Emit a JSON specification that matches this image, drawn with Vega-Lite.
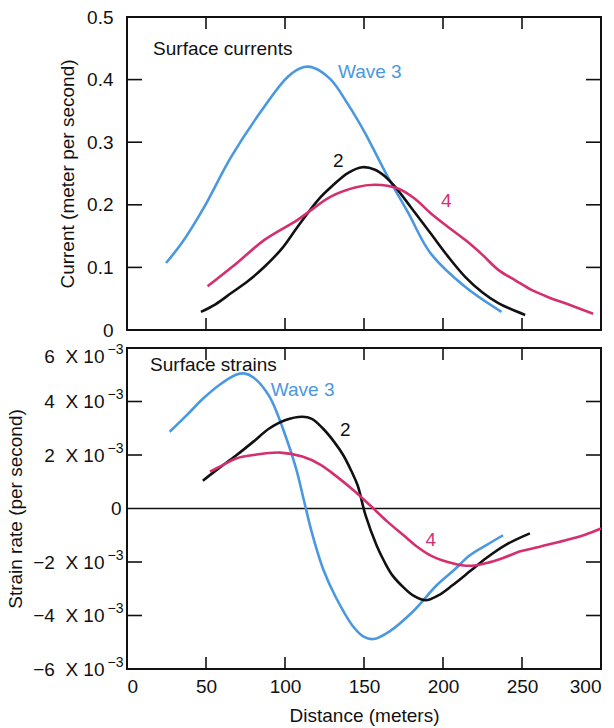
{
  "$schema": "https://vega.github.io/schema/vega-lite/v6.json",
  "padding": {"left": 5, "top": 7, "right": 0, "bottom": 0},
  "spacing": 18,
  "bounds": "flush",
  "config": {
    "font": "Liberation Sans",
    "view": {"stroke": "#111", "strokeWidth": 2},
    "rule": {"color": "#111", "strokeWidth": 1.6},
    "axis": {
      "domain": false,
      "grid": false,
      "ticks": false,
      "labelFont": "Liberation Sans",
      "labelFontSize": 19,
      "labelColor": "#111",
      "titleFont": "Liberation Sans",
      "titleFontSize": 19,
      "titleFontWeight": "normal",
      "titleColor": "#111"
    }
  },
  "datasets": {
    "currents": [
      {"wave": "Wave 3", "distance": 24.7, "value": 0.107},
      {"wave": "Wave 3", "distance": 35, "value": 0.14},
      {"wave": "Wave 3", "distance": 49, "value": 0.197},
      {"wave": "Wave 3", "distance": 66, "value": 0.277},
      {"wave": "Wave 3", "distance": 87, "value": 0.357},
      {"wave": "Wave 3", "distance": 102, "value": 0.405},
      {"wave": "Wave 3", "distance": 112, "value": 0.42},
      {"wave": "Wave 3", "distance": 118, "value": 0.419},
      {"wave": "Wave 3", "distance": 129, "value": 0.4},
      {"wave": "Wave 3", "distance": 140, "value": 0.36},
      {"wave": "Wave 3", "distance": 150.6, "value": 0.315},
      {"wave": "Wave 3", "distance": 165, "value": 0.245},
      {"wave": "Wave 3", "distance": 178, "value": 0.187},
      {"wave": "Wave 3", "distance": 192, "value": 0.123},
      {"wave": "Wave 3", "distance": 214, "value": 0.069},
      {"wave": "Wave 3", "distance": 237, "value": 0.029},
      {"wave": "2", "distance": 46.8, "value": 0.029},
      {"wave": "2", "distance": 56, "value": 0.041},
      {"wave": "2", "distance": 66, "value": 0.059},
      {"wave": "2", "distance": 77, "value": 0.079},
      {"wave": "2", "distance": 87, "value": 0.101},
      {"wave": "2", "distance": 98, "value": 0.13},
      {"wave": "2", "distance": 108, "value": 0.165},
      {"wave": "2", "distance": 121, "value": 0.208},
      {"wave": "2", "distance": 129, "value": 0.228},
      {"wave": "2", "distance": 140, "value": 0.251},
      {"wave": "2", "distance": 149, "value": 0.26},
      {"wave": "2", "distance": 157, "value": 0.256},
      {"wave": "2", "distance": 163, "value": 0.246},
      {"wave": "2", "distance": 169.6, "value": 0.229},
      {"wave": "2", "distance": 180, "value": 0.195},
      {"wave": "2", "distance": 192, "value": 0.155},
      {"wave": "2", "distance": 203, "value": 0.118},
      {"wave": "2", "distance": 214, "value": 0.085},
      {"wave": "2", "distance": 225, "value": 0.06},
      {"wave": "2", "distance": 235, "value": 0.043},
      {"wave": "2", "distance": 252, "value": 0.024},
      {"wave": "4", "distance": 51, "value": 0.07},
      {"wave": "4", "distance": 70, "value": 0.108},
      {"wave": "4", "distance": 87, "value": 0.144},
      {"wave": "4", "distance": 108, "value": 0.176},
      {"wave": "4", "distance": 129, "value": 0.213},
      {"wave": "4", "distance": 145, "value": 0.228},
      {"wave": "4", "distance": 157, "value": 0.232},
      {"wave": "4", "distance": 171.5, "value": 0.226},
      {"wave": "4", "distance": 182, "value": 0.21},
      {"wave": "4", "distance": 192, "value": 0.187},
      {"wave": "4", "distance": 203, "value": 0.165},
      {"wave": "4", "distance": 214, "value": 0.144},
      {"wave": "4", "distance": 225, "value": 0.12},
      {"wave": "4", "distance": 235, "value": 0.096},
      {"wave": "4", "distance": 246, "value": 0.079},
      {"wave": "4", "distance": 256, "value": 0.064},
      {"wave": "4", "distance": 267, "value": 0.052},
      {"wave": "4", "distance": 277, "value": 0.043},
      {"wave": "4", "distance": 295, "value": 0.026}
    ],
    "strains": [
      {"wave": "Wave 3", "distance": 27, "value": 0.00287},
      {"wave": "Wave 3", "distance": 38, "value": 0.0035},
      {"wave": "Wave 3", "distance": 48, "value": 0.0041},
      {"wave": "Wave 3", "distance": 58, "value": 0.0046},
      {"wave": "Wave 3", "distance": 69, "value": 0.005},
      {"wave": "Wave 3", "distance": 74, "value": 0.00505},
      {"wave": "Wave 3", "distance": 80, "value": 0.0049},
      {"wave": "Wave 3", "distance": 90, "value": 0.0042},
      {"wave": "Wave 3", "distance": 101, "value": 0.0026},
      {"wave": "Wave 3", "distance": 107, "value": 0.0015},
      {"wave": "Wave 3", "distance": 112, "value": 0.0003},
      {"wave": "Wave 3", "distance": 117, "value": -0.0009},
      {"wave": "Wave 3", "distance": 124, "value": -0.00224},
      {"wave": "Wave 3", "distance": 132, "value": -0.0033},
      {"wave": "Wave 3", "distance": 143, "value": -0.0044},
      {"wave": "Wave 3", "distance": 150, "value": -0.0048},
      {"wave": "Wave 3", "distance": 156, "value": -0.00488},
      {"wave": "Wave 3", "distance": 166, "value": -0.0046},
      {"wave": "Wave 3", "distance": 181, "value": -0.00385},
      {"wave": "Wave 3", "distance": 196, "value": -0.00287},
      {"wave": "Wave 3", "distance": 207, "value": -0.0023},
      {"wave": "Wave 3", "distance": 217, "value": -0.00175},
      {"wave": "Wave 3", "distance": 228, "value": -0.00135},
      {"wave": "Wave 3", "distance": 238, "value": -0.001},
      {"wave": "2", "distance": 48, "value": 0.00104},
      {"wave": "2", "distance": 58, "value": 0.0015},
      {"wave": "2", "distance": 69, "value": 0.00198},
      {"wave": "2", "distance": 80, "value": 0.0025},
      {"wave": "2", "distance": 90, "value": 0.00299},
      {"wave": "2", "distance": 100, "value": 0.0033},
      {"wave": "2", "distance": 111, "value": 0.00343},
      {"wave": "2", "distance": 117, "value": 0.00335},
      {"wave": "2", "distance": 124, "value": 0.00299},
      {"wave": "2", "distance": 131, "value": 0.0025},
      {"wave": "2", "distance": 137, "value": 0.00198},
      {"wave": "2", "distance": 142, "value": 0.0014},
      {"wave": "2", "distance": 146, "value": 0.00086},
      {"wave": "2", "distance": 151, "value": -0.00026},
      {"wave": "2", "distance": 158, "value": -0.00138},
      {"wave": "2", "distance": 163, "value": -0.002},
      {"wave": "2", "distance": 168, "value": -0.0025},
      {"wave": "2", "distance": 175, "value": -0.00295},
      {"wave": "2", "distance": 181, "value": -0.00325},
      {"wave": "2", "distance": 189, "value": -0.00343},
      {"wave": "2", "distance": 197, "value": -0.00325},
      {"wave": "2", "distance": 206, "value": -0.00287},
      {"wave": "2", "distance": 217, "value": -0.00235},
      {"wave": "2", "distance": 227, "value": -0.00187},
      {"wave": "2", "distance": 240, "value": -0.00135},
      {"wave": "2", "distance": 255, "value": -0.00093},
      {"wave": "4", "distance": 52.5, "value": 0.00138},
      {"wave": "4", "distance": 60, "value": 0.0016},
      {"wave": "4", "distance": 69, "value": 0.00187},
      {"wave": "4", "distance": 80, "value": 0.002},
      {"wave": "4", "distance": 97, "value": 0.00209},
      {"wave": "4", "distance": 111, "value": 0.00194},
      {"wave": "4", "distance": 122, "value": 0.00165},
      {"wave": "4", "distance": 132, "value": 0.00123},
      {"wave": "4", "distance": 143, "value": 0.0007},
      {"wave": "4", "distance": 154, "value": 0.00011},
      {"wave": "4", "distance": 165, "value": -0.0005},
      {"wave": "4", "distance": 175, "value": -0.001},
      {"wave": "4", "distance": 183, "value": -0.0014},
      {"wave": "4", "distance": 192, "value": -0.00175},
      {"wave": "4", "distance": 203, "value": -0.002},
      {"wave": "4", "distance": 213, "value": -0.00213},
      {"wave": "4", "distance": 220, "value": -0.00213},
      {"wave": "4", "distance": 227, "value": -0.00205},
      {"wave": "4", "distance": 238, "value": -0.00185},
      {"wave": "4", "distance": 249, "value": -0.0016},
      {"wave": "4", "distance": 260, "value": -0.00145},
      {"wave": "4", "distance": 270, "value": -0.0013},
      {"wave": "4", "distance": 280, "value": -0.00115},
      {"wave": "4", "distance": 290, "value": -0.00098},
      {"wave": "4", "distance": 300, "value": -0.00075}
    ],
    "labelsTop": [
      {"wave": "label", "distance": 16.5, "value": 0.439, "text": "Surface currents"},
      {"wave": "Wave 3", "distance": 133.5, "value": 0.4026, "text": "Wave 3"},
      {"wave": "2", "distance": 130.4, "value": 0.26, "text": "2"},
      {"wave": "4", "distance": 198.7, "value": 0.196, "text": "4"}
    ],
    "labelsBottom": [
      {"wave": "label", "distance": 14.6, "value": 0.00515, "text": "Surface strains"},
      {"wave": "Wave 3", "distance": 91, "value": 0.00422, "text": "Wave 3"},
      {"wave": "2", "distance": 134.8, "value": 0.00272, "text": "2"},
      {"wave": "4", "distance": 189, "value": -0.00142, "text": "4"}
    ],
    "zeroLine": [
      {"value": 0}
    ],
    "topXTicks": [
      {"distance": 50, "value": 0.5, "value2": 0.481}, {"distance": 100, "value": 0.5, "value2": 0.481},
      {"distance": 150, "value": 0.5, "value2": 0.481}, {"distance": 200, "value": 0.5, "value2": 0.481},
      {"distance": 250, "value": 0.5, "value2": 0.481},
      {"distance": 50, "value": 0, "value2": 0.019}, {"distance": 100, "value": 0, "value2": 0.019},
      {"distance": 150, "value": 0, "value2": 0.019}, {"distance": 200, "value": 0, "value2": 0.019},
      {"distance": 250, "value": 0, "value2": 0.019}
    ],
    "topYTicks": [
      {"value": 0.1, "distance": 0, "distance2": 9.5}, {"value": 0.2, "distance": 0, "distance2": 9.5},
      {"value": 0.3, "distance": 0, "distance2": 9.5}, {"value": 0.4, "distance": 0, "distance2": 9.5},
      {"value": 0.1, "distance": 290.5, "distance2": 300}, {"value": 0.2, "distance": 290.5, "distance2": 300},
      {"value": 0.3, "distance": 290.5, "distance2": 300}, {"value": 0.4, "distance": 290.5, "distance2": 300}
    ],
    "bottomXTicks": [
      {"distance": 50, "value": 0.006, "value2": 0.00555}, {"distance": 100, "value": 0.006, "value2": 0.00555},
      {"distance": 150, "value": 0.006, "value2": 0.00555}, {"distance": 200, "value": 0.006, "value2": 0.00555},
      {"distance": 250, "value": 0.006, "value2": 0.00555},
      {"distance": 50, "value": -0.006, "value2": -0.00555}, {"distance": 100, "value": -0.006, "value2": -0.00555},
      {"distance": 150, "value": -0.006, "value2": -0.00555}, {"distance": 200, "value": -0.006, "value2": -0.00555},
      {"distance": 250, "value": -0.006, "value2": -0.00555}
    ],
    "bottomYTicks": [
      {"value": -0.004, "distance": 0, "distance2": 9.5}, {"value": -0.002, "distance": 0, "distance2": 9.5},
      {"value": 0.002, "distance": 0, "distance2": 9.5}, {"value": 0.004, "distance": 0, "distance2": 9.5},
      {"value": -0.004, "distance": 290.5, "distance2": 300}, {"value": -0.002, "distance": 290.5, "distance2": 300},
      {"value": 0.002, "distance": 290.5, "distance2": 300}, {"value": 0.004, "distance": 290.5, "distance2": 300}
    ]
  },
  "vconcat": [
    {
      "width": 474,
      "height": 313,
      "resolve": {"axis": {"x": "independent", "y": "independent"}},
      "layer": [
        {
          "data": {"name": "currents"},
          "mark": {"type": "line", "strokeWidth": 2.6, "interpolate": "catmull-rom"},
          "encoding": {
            "x": {"field": "distance", "type": "quantitative",
              "scale": {"domain": [0, 300], "nice": false}, "axis": null},
            "y": {"field": "value", "type": "quantitative",
              "scale": {"domain": [0, 0.5], "nice": false},
              "axis": {"orient": "left", "values": [0, 0.1, 0.2, 0.3, 0.4, 0.5], "labelPadding": 14,
                "labelExpr": "datum.value == 0 ? '0' : format(datum.value, '.1f')",
                "title": "Current (meter per second)", "minExtent": 40, "maxExtent": 40, "titlePadding": 10}},
            "color": {"field": "wave", "type": "nominal",
              "scale": {"domain": ["Wave 3", "2", "4", "label"], "range": ["#4a98e0", "#111111", "#d42f6f", "#111111"]},
              "legend": null}
          }
        },
        {
          "data": {"name": "labelsTop"},
          "mark": {"type": "text", "align": "left", "baseline": "alphabetic", "fontSize": 19, "font": "Liberation Sans"},
          "encoding": {
            "x": {"field": "distance", "type": "quantitative", "axis": null},
            "y": {"field": "value", "type": "quantitative", "axis": null},
            "text": {"field": "text"},
            "color": {"field": "wave", "type": "nominal", "legend": null}
          }
        },
        {
          "data": {"name": "topXTicks"},
          "mark": {"type": "rule"},
          "encoding": {
            "x": {"field": "distance", "type": "quantitative", "axis": null},
            "y": {"field": "value", "type": "quantitative", "axis": null},
            "y2": {"field": "value2"}
          }
        },
        {
          "data": {"name": "topYTicks"},
          "mark": {"type": "rule"},
          "encoding": {
            "x": {"field": "distance", "type": "quantitative", "axis": null},
            "x2": {"field": "distance2"},
            "y": {"field": "value", "type": "quantitative", "axis": null}
          }
        }
      ]
    },
    {
      "width": 474,
      "height": 321,
      "resolve": {"axis": {"x": "independent", "y": "independent"}},
      "layer": [
        {
          "data": {"name": "zeroLine"},
          "mark": {"type": "rule", "strokeWidth": 1.5},
          "encoding": {"y": {"field": "value", "type": "quantitative",
            "scale": {"domain": [-0.006, 0.006], "nice": false},
            "axis": {"orient": "left", "values": [-0.006, -0.004, -0.002, 0.002, 0.004, 0.006], "labelPadding": 4,
              "labelExpr": "'\u22123'", "labelFontSize": 14,
              "labelOffset": {"condition": {"test": "datum.value > 0.005", "value": 1}, "value": -7},
              "title": null}}}
        },
        {
          "data": {"name": "strains"},
          "mark": {"type": "line", "strokeWidth": 2.6, "interpolate": "catmull-rom"},
          "encoding": {
            "x": {"field": "distance", "type": "quantitative",
              "scale": {"domain": [0, 300], "nice": false},
              "axis": {"orient": "bottom", "values": [0, 50, 100, 150, 200, 250, 300], "labelPadding": 8,
                "title": "Distance (meters)", "titlePadding": 10}},
            "y": {"field": "value", "type": "quantitative",
              "axis": {"orient": "left", "values": [-0.006, -0.004, -0.002, 0, 0.002, 0.004, 0.006],
                "labelPadding": {"condition": {"test": "datum.value == 0", "value": 6}, "value": 23},
                "labelOffset": {"condition": {"test": "datum.value > 0.005", "value": 8}, "value": 0},
                "labelExpr": "datum.value == 0 ? '0' : (datum.value < 0 ? '\u2212' : '') + round(abs(datum.value) * 1000) + '\u00a0 X 10'",
                "title": "Strain rate (per second)", "minExtent": 90, "maxExtent": 90, "titlePadding": 12}},
            "color": {"field": "wave", "type": "nominal",
              "scale": {"domain": ["Wave 3", "2", "4", "label"], "range": ["#4a98e0", "#111111", "#d42f6f", "#111111"]},
              "legend": null}
          }
        },
        {
          "data": {"name": "labelsBottom"},
          "mark": {"type": "text", "align": "left", "baseline": "alphabetic", "fontSize": 19, "font": "Liberation Sans"},
          "encoding": {
            "x": {"field": "distance", "type": "quantitative", "axis": null},
            "y": {"field": "value", "type": "quantitative", "axis": null},
            "text": {"field": "text"},
            "color": {"field": "wave", "type": "nominal", "legend": null}
          }
        },
        {
          "data": {"name": "bottomXTicks"},
          "mark": {"type": "rule"},
          "encoding": {
            "x": {"field": "distance", "type": "quantitative", "axis": null},
            "y": {"field": "value", "type": "quantitative", "axis": null},
            "y2": {"field": "value2"}
          }
        },
        {
          "data": {"name": "bottomYTicks"},
          "mark": {"type": "rule"},
          "encoding": {
            "x": {"field": "distance", "type": "quantitative", "axis": null},
            "x2": {"field": "distance2"},
            "y": {"field": "value", "type": "quantitative", "axis": null}
          }
        }
      ]
    }
  ]
}
